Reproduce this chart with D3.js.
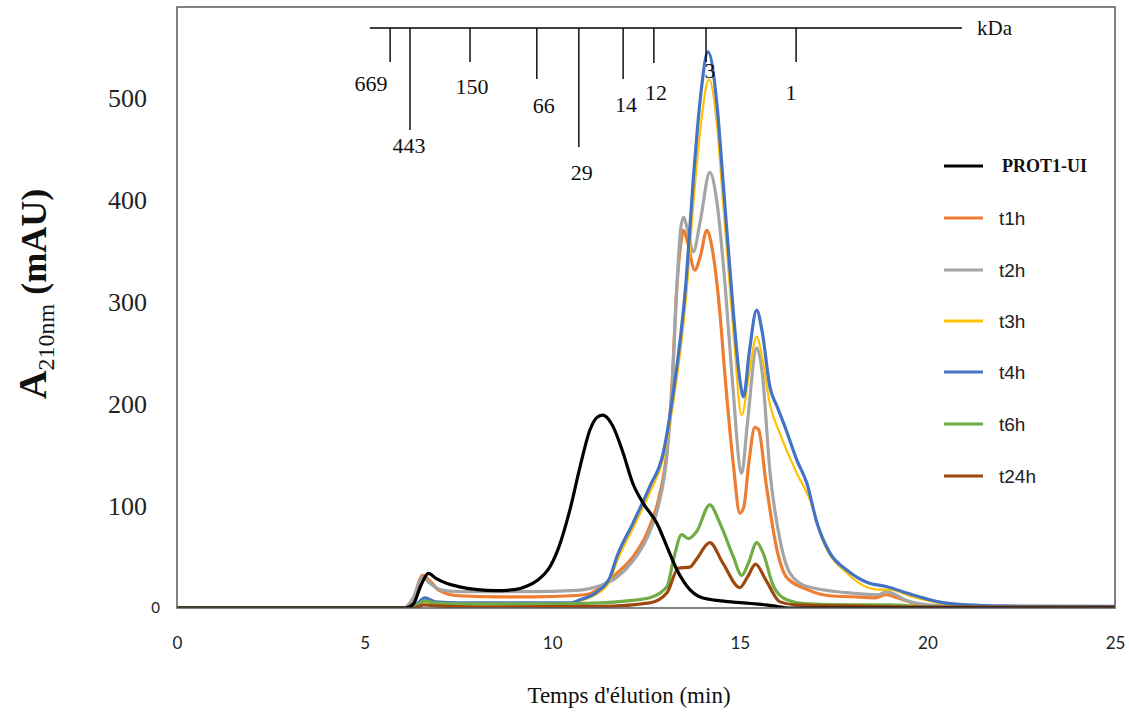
<!DOCTYPE html>
<html><head><meta charset="utf-8">
<script src="https://cdn.jsdelivr.net/npm/d3@7"></script>
<style>body{margin:0;background:#fff}</style>
</head><body>
<svg id="c" width="1129" height="713"></svg>
<script>
// ---------- data ----------
const xTicks = [0, 5, 10, 15, 20, 25];
const yTicks = [0, 100, 200, 300, 400, 500];
const seriesNames = ["PROT1-UI", "t1h", "t2h", "t3h", "t4h", "t6h", "t24h"];

// each point: [elution time (min), absorbance (mAU)]
const prot1UI = [[0,0],[6.1,0],[6.3,4],[6.5,22],[6.7,34],[6.9,29],[7.2,24],[7.5,21],[8.0,18],[8.5,17],[9.0,18],[9.3,21],[9.6,27],[9.9,38],[10.15,57],[10.47,96],[10.74,138],[11.0,174],[11.2,187],[11.35,189],[11.5,185],[11.62,178],[11.89,152],[12.15,122],[12.42,103],[12.79,83],[13.06,60],[13.33,37],[13.67,18],[14.0,10],[14.5,7],[15.1,5],[15.7,3],[16.0,1.5],[16.3,0],[25,0]];
const t1h = [[0,0],[6.05,0],[6.3,10],[6.55,32],[6.75,26],[7.0,17],[7.5,12],[8.5,11],[9.5,11],[10.5,12],[11.0,14],[11.27,20],[11.72,34],[12.15,50],[12.52,73],[12.83,106],[13.06,155],[13.2,223],[13.3,300],[13.42,355],[13.5,370],[13.6,360],[13.8,331],[13.95,345],[14.12,370],[14.25,355],[14.47,289],[14.6,230],[14.83,140],[15.0,93],[15.1,98],[15.25,145],[15.4,177],[15.5,175],[15.7,122],[15.99,57],[16.25,30],[16.8,18],[17.4,12],[18.0,11],[18.6,10],[18.9,13],[19.2,10],[19.6,5],[20.2,2],[21,1],[25,1]];
const t2h = [[0,0],[6.05,0],[6.3,10],[6.55,30],[6.75,24],[7.0,18],[7.5,16],[8.5,16],[9.5,16],[10.5,17],[11.0,19],[11.3,22],[11.72,30],[12.15,46],[12.52,68],[12.83,100],[13.06,150],[13.2,217],[13.3,300],[13.42,370],[13.5,383],[13.6,372],[13.76,349],[13.95,380],[14.2,427],[14.4,395],[14.6,320],[14.8,224],[15.05,132],[15.2,180],[15.45,255],[15.6,230],[15.8,135],[16.07,67],[16.34,34],[16.79,21],[17.86,15],[18.7,13],[18.9,16],[19.1,14],[19.4,8],[20.0,3],[21,1],[25,1]];
const t3h = [[0,0],[6.2,0],[6.4,2],[6.6,6],[6.9,4],[7.5,3],[10.5,4],[10.74,7],[11.2,14],[11.54,27],[11.72,45],[12.15,78],[12.6,113],[12.96,147],[13.2,195],[13.57,305],[13.76,395],[13.95,470],[14.18,518],[14.4,470],[14.55,400],[14.83,270],[15.05,189],[15.25,230],[15.45,266],[15.6,245],[15.8,200],[16.07,171],[16.3,150],[16.52,132],[16.87,106],[17.2,67],[17.86,34],[18.7,18],[19.0,18],[19.6,11],[20.3,5],[21,2],[25,1]];
const t4h = [[0,0],[6.2,0],[6.4,4],[6.6,10],[6.9,6],[7.5,5],[10.5,5],[10.74,8],[11.2,16],[11.54,30],[11.72,50],[12.15,83],[12.6,119],[12.96,152],[13.2,204],[13.57,321],[13.76,420],[13.95,500],[14.15,545],[14.4,490],[14.55,420],[14.83,289],[15.0,224],[15.1,207],[15.25,250],[15.45,292],[15.6,270],[15.8,217],[16.0,197],[16.2,178],[16.52,145],[16.79,122],[17.06,83],[17.4,54],[17.86,37],[18.4,25],[18.9,21],[19.6,13],[20.3,6],[21.05,3],[22,2],[25,1.5]];
const t6h = [[0,0],[6.2,0],[6.4,3],[6.6,7],[6.85,5],[7.5,4],[10,4],[11.27,5],[12.0,7],[12.6,10],[13.06,21],[13.23,47],[13.45,72],[13.63,68],[13.85,75],[14.2,101],[14.47,83],[14.83,50],[15.05,32],[15.23,44],[15.45,64],[15.62,54],[15.9,21],[16.25,8],[16.8,4],[18,3],[19,3],[20,1],[25,0.5]];
const t24h = [[0,0],[6.3,0],[6.6,3],[6.9,2],[8,1],[11.27,1.5],[12.6,5],[13.06,15],[13.36,39],[13.67,40],[13.85,48],[14.2,64],[14.55,44],[15.0,20],[15.2,30],[15.42,43],[15.7,27],[16.07,6],[16.5,3],[18,2],[20,1],[25,1]];

// molecular-weight markers (kDa) and their elution times (min)
const kdaLabels = ["669", "443", "150", "66", "29", "14", "12", "3", "1"];
const kdaTimes  = [5.68, 6.21, 7.81, 9.59, 10.71, 11.89, 12.71, 14.1, 16.5];
const kdaRange  = [5.14, 20.92];

// ---------- layout / style ----------
const colors = {"PROT1-UI":"#000000", t1h:"#ED7D31", t2h:"#A5A5A5", t3h:"#FFC000", t4h:"#4472C4", t6h:"#70AD47", t24h:"#9E480E"};
const dataByName = {"PROT1-UI":prot1UI, t1h, t2h, t3h, t4h, t6h, t24h};
const kdaTickEnd = [62, 130, 62, 79, 147, 79, 63, 62, 62];
const kdaLabelDx = [-19, -1, 2, 7, 3, 3, 2, 4, -5];
const kdaLabelY  = [91, 153, 94, 113, 180, 112, 100, 78, 100];

const svg = d3.select("#c");
const L = 177, R = 1115, T = 7, B = 608;
const x = d3.scaleLinear().domain([0, 25]).range([L, R]);
const y = d3.scaleLinear().domain([0, 589]).range([B, T]);

const serif = "'Liberation Serif','Times New Roman',serif";
const sans = "'Liberation Sans',Arial,sans-serif";

svg.append("defs").append("clipPath").attr("id","clip")
  .append("rect").attr("x", L).attr("y", T - 2).attr("width", R - L).attr("height", B - T + 2);

// series
const line = d3.line().x(d => x(d[0])).y(d => y(d[1])).curve(d3.curveMonotoneX);
const drawOrder = ["t1h","t2h","t3h","t4h","t6h","t24h","PROT1-UI"];
const gLines = svg.append("g").attr("clip-path","url(#clip)");
drawOrder.forEach(n => {
  gLines.append("path").datum(dataByName[n])
    .attr("d", line).attr("fill","none")
    .attr("stroke", colors[n])
    .attr("stroke-width", n === "t3h" ? 2.2 : 3.2)
    .attr("stroke-linejoin","round").attr("stroke-linecap","round");
});

// frame
svg.append("rect").attr("x", L).attr("y", T).attr("width", R - L).attr("height", B - T)
  .attr("fill","none").attr("stroke","#595959").attr("stroke-width",1.5);

// x axis
const gx = svg.append("g").attr("transform", `translate(0,${B})`)
  .call(d3.axisBottom(x).tickValues(xTicks).tickSize(0).tickPadding(29).tickFormat(d3.format("d")));
gx.select(".domain").remove();
gx.selectAll("text").attr("font-family", "Lato,'Open Sans',sans-serif").attr("font-size", 17).attr("fill","#222");

// y axis
const gy = svg.append("g").attr("transform", `translate(${L},0)`)
  .call(d3.axisLeft(y).tickValues(yTicks).tickSize(0).tickPadding(30).tickFormat(d3.format("d")));
gy.select(".domain").remove();
gy.selectAll("text").attr("font-family", serif).attr("font-size", 26).attr("fill","#222");
gy.selectAll(".tick").filter(d => d === 0).select("text")
  .attr("font-family", "Lato,'Open Sans',sans-serif").attr("font-size", 15).attr("x", -17);

// axis titles
svg.append("text").attr("x", 629).attr("y", 703).attr("text-anchor","middle")
  .attr("font-family", serif).attr("font-size", 23).attr("fill","#111")
  .text("Temps d'élution (min)");

const yl = svg.append("text").attr("transform","translate(46,294) rotate(-90)")
  .attr("text-anchor","middle").attr("font-family", serif).attr("font-weight","bold").attr("fill","#111");
yl.append("tspan").attr("font-size", 40).text("A");
yl.append("tspan").attr("font-size", 24).attr("font-weight","normal").attr("dy", 8).text("210nm");
yl.append("tspan").attr("font-size", 36).attr("dy", -8).text(" (mAU)");

// kDa scale
const gk = svg.append("g").attr("stroke","#000").attr("stroke-width",1.4);
gk.append("line").attr("x1", x(kdaRange[0])).attr("x2", x(kdaRange[1])).attr("y1", 28).attr("y2", 28);
kdaTimes.forEach((t, i) => {
  gk.append("line").attr("x1", x(t)).attr("x2", x(t)).attr("y1", 28).attr("y2", kdaTickEnd[i]);
});
const gkl = svg.append("g").attr("font-family", serif).attr("font-size", 22).attr("fill","#111").attr("text-anchor","middle");
kdaLabels.forEach((lab, i) => {
  gkl.append("text").attr("x", x(kdaTimes[i]) + kdaLabelDx[i]).attr("y", kdaLabelY[i]).text(lab);
});
svg.append("text").attr("x", 977).attr("y", 35).attr("font-family", serif).attr("font-size", 21).attr("fill","#111").text("kDa");

// legend
const legendY = [166, 218, 270, 321, 372, 424, 476];
const gl = svg.append("g");
seriesNames.forEach((n, i) => {
  const row = gl.append("g").attr("transform", `translate(0,${legendY[i]})`);
  row.append("line").attr("x1", 944).attr("x2", 983).attr("y1", 0).attr("y2", 0)
    .attr("stroke", colors[n]).attr("stroke-width", 3.2);
  const t = row.append("text").attr("x", n === "PROT1-UI" ? 1002 : 999).attr("y", 0).attr("dy","0.35em").text(n);
  if (n === "PROT1-UI") t.attr("font-family", serif).attr("font-weight","bold").attr("font-size", 18).attr("fill","#111");
  else t.attr("font-family", sans).attr("font-size", 19).attr("fill","#222");
});
</script>
</body></html>
